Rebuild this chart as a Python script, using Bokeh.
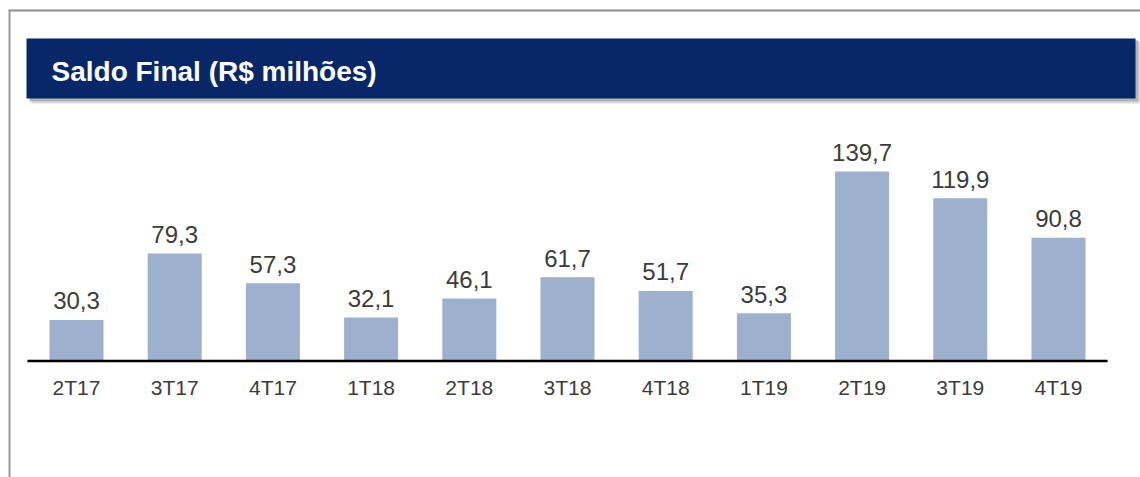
from bokeh.plotting import figure
from bokeh.models import Range1d
from bokeh.core.properties import value
from bokeh.embed import file_html
from bokeh.resources import INLINE

title = "Saldo Final (R$ milhões)"
categories = ["2T17", "3T17", "4T17", "1T18", "2T18", "3T18", "4T18", "1T19", "2T19", "3T19", "4T19"]
values = [30.3, 79.3, 57.3, 32.1, 46.1, 61.7, 51.7, 35.3, 139.7, 119.9, 90.8]

W, H = 1140, 477
FONT = "Liberation Sans Narrow, Arial Narrow, Liberation Sans, Arial, sans-serif"

idx = list(range(len(categories)))
labels = [f"{v:.1f}".replace(".", ",") for v in values]

p = figure(width=W, height=H, x_range=Range1d(-0.774, 10.835), y_range=Range1d(-85.8, 265.7),
           output_backend="svg", toolbar_location=None, min_border=0,
           x_axis_type=None, y_axis_type=None, outline_line_color=None)
p.grid.visible = False
p.background_fill_color = "white"
p.border_fill_color = "white"
p.extra_x_ranges = {"px": Range1d(0, W)}
p.extra_y_ranges = {"py": Range1d(H, 0)}
px = dict(x_range_name="px", y_range_name="py")

# outer frame
p.segment(x0=[8], y0=[10], x1=[W], y1=[10], line_color="#8c8c8c", line_width=2, **px)
p.segment(x0=[9], y0=[10], x1=[9], y1=[H], line_color="#9a9a9a", line_width=2, **px)

# title bar with shadow
p.quad(left=[31], right=[1140], top=[42], bottom=[103], fill_color="#dcdcdc", line_color=None, **px)
p.quad(left=[29], right=[1138], top=[40], bottom=[101], fill_color="#b4b4b4", line_color=None, **px)
p.quad(left=[26], right=[1135], top=[38], bottom=[98], fill_color="#072768", line_color=None, **px)
p.text(x=[51], y=[71], text=[title], text_color="white", text_font=value(FONT),
       text_font_style="bold", text_font_size="28px", text_baseline="alphabetic", **px)

# bars
p.vbar(x=idx, top=values, bottom=0, width=0.55, fill_color="#9db0ce", line_color=None)

# baseline
p.segment(x0=[-0.5], y0=[0], x1=[len(categories) - 0.5], y1=[0], line_color="black", line_width=2.5)

# value labels
p.text(x=idx, y=values, text=labels, text_align="center", text_baseline="alphabetic",
       y_offset=-19, text_font=value(FONT), text_font_size="24px", text_color="#3b3b3b")

# category labels
p.text(x=idx, y=[0] * len(idx), text=categories, text_align="center", text_baseline="alphabetic",
       y_offset=26, text_font=value(FONT), text_font_size="21px", text_color="#3b3b3b")

open("out.html", "w").write(file_html(p, INLINE))
